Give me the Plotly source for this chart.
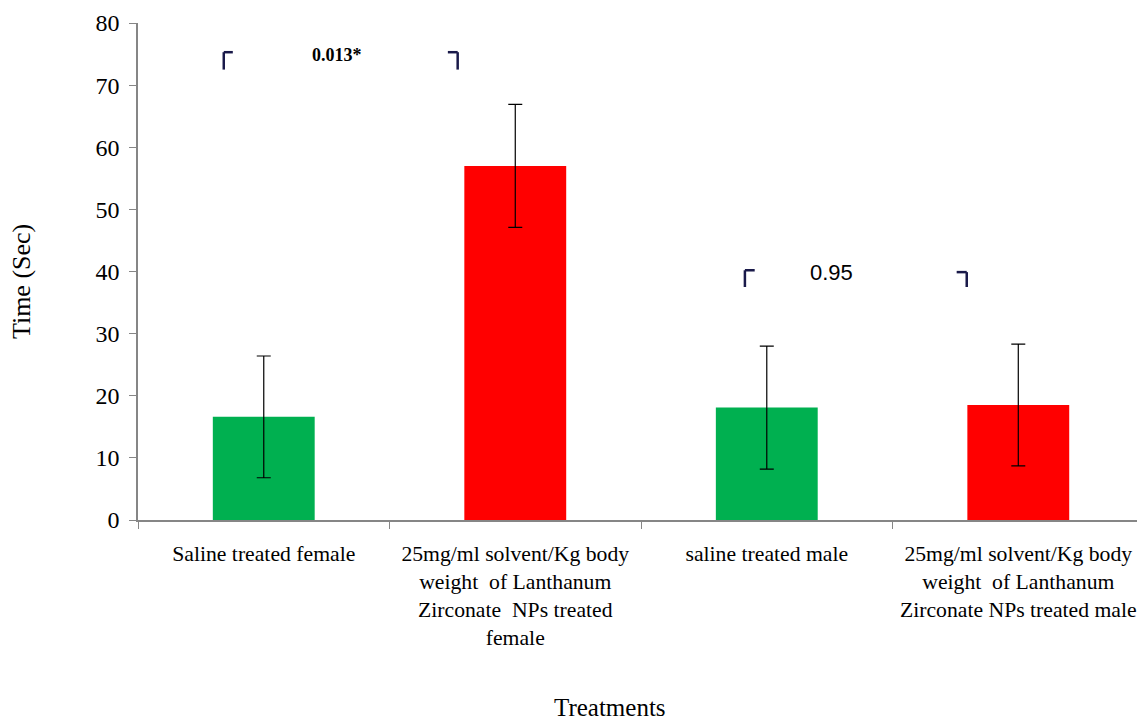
import plotly.graph_objects as go

categories = [
    "Saline treated female",
    "25mg/ml solvent/Kg body<br>weight  of Lanthanum<br>Zirconate  NPs treated<br>female",
    "saline treated male",
    "25mg/ml solvent/Kg body<br>weight  of Lanthanum<br>Zirconate NPs treated male",
]
times = [16.6, 57.0, 18.1, 18.5]
errors = [9.8, 9.9, 9.9, 9.8]
bar_colors = ["#00B050", "#FF0000", "#00B050", "#FF0000"]
y_ticks = [0, 10, 20, 30, 40, 50, 60, 70, 80]

FONT = "Liberation Serif, Times New Roman, serif"
AXIS = "#868686"
BRK = "#1a1a4a"

fig = go.Figure()
fig.add_trace(go.Bar(
    x=categories, y=times, width=0.405,
    marker=dict(color=bar_colors, line=dict(width=0)),
    error_y=dict(type="data", array=errors, visible=True, color="black",
                 thickness=1.2, width=7),
))

shapes = []
def bracket(x_vert, x_horiz, y_top, y_bot):
    shapes.append(dict(type="line", xref="x", yref="y", x0=x_vert, x1=x_vert,
                       y0=y_top, y1=y_bot, line=dict(color=BRK, width=2.5)))
    shapes.append(dict(type="line", xref="x", yref="y", x0=x_vert, x1=x_horiz,
                       y0=y_top, y1=y_top, line=dict(color=BRK, width=2.5)))

bracket(-0.159, -0.123, 75.3, 72.5)
bracket(0.771, 0.732, 75.3, 72.5)
bracket(1.913, 1.952, 40.2, 37.5)
bracket(2.795, 2.755, 39.9, 37.5)

fig.update_layout(
    width=1137, height=720,
    margin=dict(l=138, r=0, t=23, b=200),
    paper_bgcolor="white", plot_bgcolor="white",
    showlegend=False,
    font=dict(family=FONT, size=22, color="black"),
    shapes=shapes,
    xaxis=dict(
        type="category", range=[-0.5, 3.472],
        showline=True, linecolor=AXIS, linewidth=1.5,
        ticks="outside", tickson="boundaries", ticklen=7, tickcolor=AXIS,
        tickfont=dict(family=FONT, size=21.7, color="black"),
        ticklabelstandoff=13,
        showgrid=False, zeroline=False, automargin=False,
    ),
    yaxis=dict(
        range=[0, 80], tickvals=y_ticks,
        showline=True, linecolor=AXIS, linewidth=1.5,
        ticks="outside", ticklen=7, tickcolor=AXIS,
        tickfont=dict(family=FONT, size=24, color="black"),
        ticklabelstandoff=5,
        showgrid=False, zeroline=False, automargin=False,
    ),
    annotations=[
        dict(text="<b>0.013*</b>", x=0.29, y=74.8, xref="x", yref="y", showarrow=False,
             xanchor="center", font=dict(family=FONT, size=18, color="black")),
        dict(text="0.95", x=2.258, y=39.9, xref="x", yref="y", showarrow=False,
             xanchor="center",
             font=dict(family="Liberation Sans, sans-serif", size=22, color="black")),
        dict(text="Time (Sec)", x=-0.116, y=0.479, xref="paper", yref="paper",
             xanchor="center", yanchor="middle",
             showarrow=False, textangle=-90, font=dict(family=FONT, size=26, color="black")),
        dict(text="Treatments", x=0.4725, y=-0.378, xref="paper", yref="paper",
             xanchor="center", yanchor="middle",
             showarrow=False, font=dict(family=FONT, size=25, color="black")),
    ],
)

fig.write_html("out.html",
               config={"displayModeBar": False},
               post_script="document.body.style.margin='0';document.body.style.overflow='hidden';")
